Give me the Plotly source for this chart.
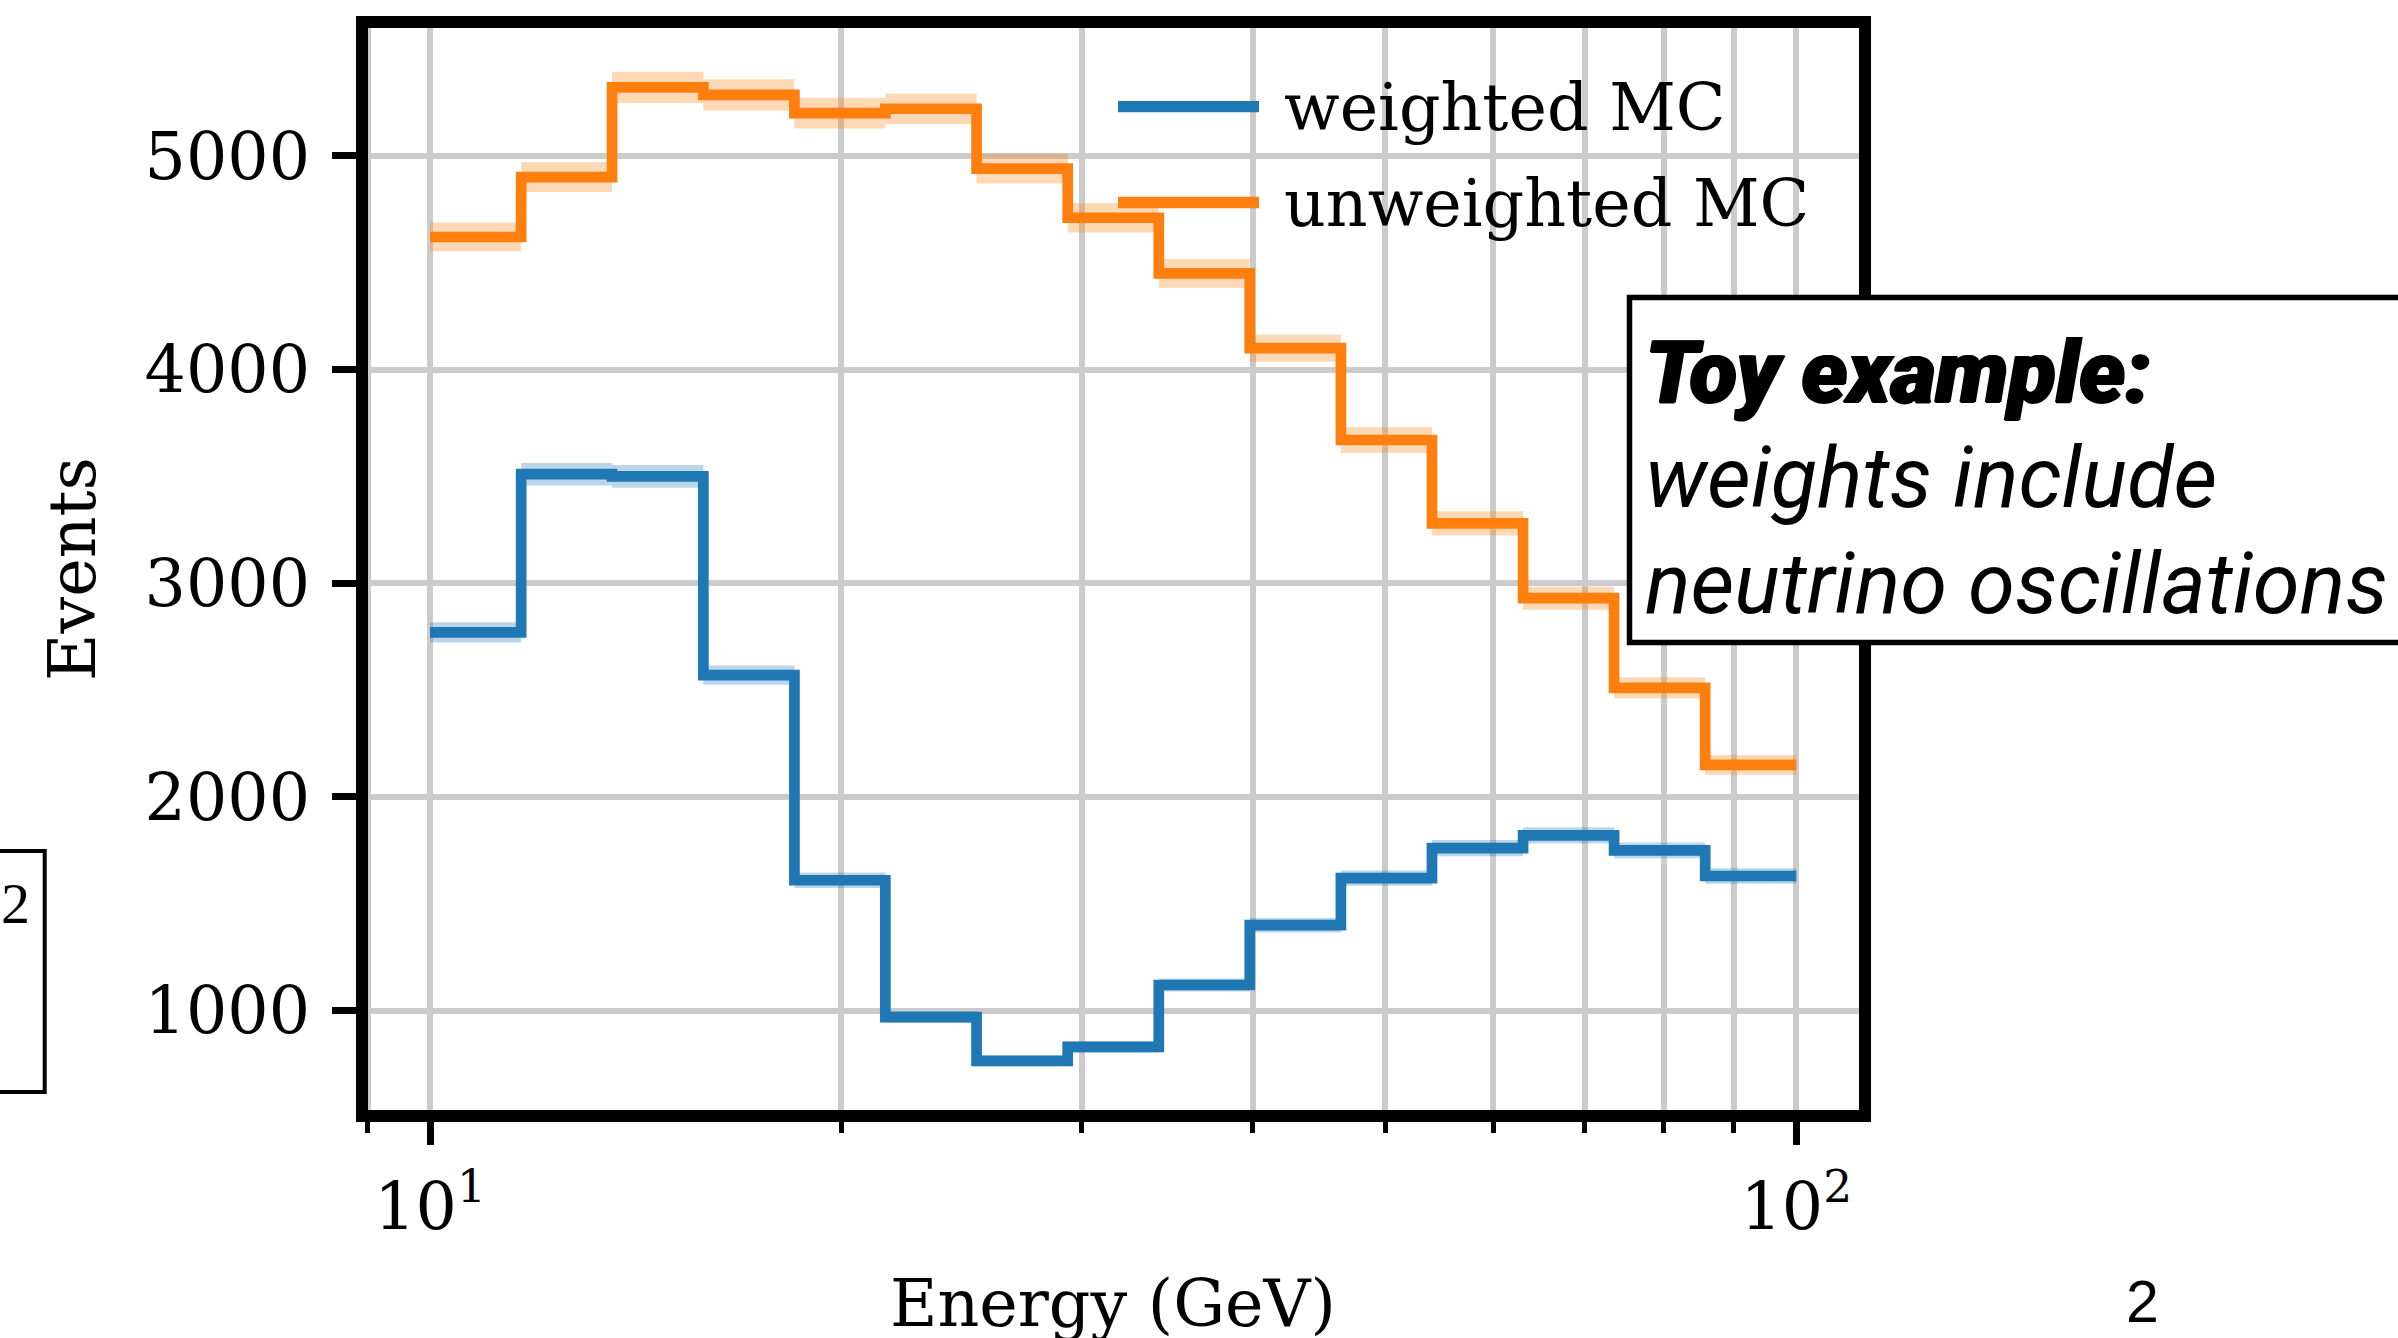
import plotly.graph_objects as go

# Histogram binning (15 log-spaced bins between 10 and 100 GeV)
bin_edges = [10.0, 11.66, 13.59, 15.85, 18.48, 21.54, 25.12, 29.29, 34.15,
             39.81, 46.42, 54.12, 63.10, 73.56, 85.77, 100.0]

# Event counts per bin and their uncertainties
weighted = [2770, 3510, 3500, 2570, 1610, 970, 765, 830, 1120, 1400,
            1620, 1760, 1820, 1750, 1630]
weighted_err = [47, 53, 53, 45, 36, 28, 25, 26, 30, 34, 36, 38, 38, 37, 36]
unweighted = [4620, 4900, 5320, 5285, 5200, 5220, 4940, 4710, 4450, 4100,
              3670, 3280, 2930, 2510, 2150]
unweighted_err = [68, 70, 73, 73, 72, 72, 70, 69, 67, 64, 61, 57, 54, 50, 46]

series_names = ["weighted MC", "unweighted MC"]
series_colors = ["#1f77b4", "#ff7f0e"]
band_colors = ["rgba(31,119,180,0.3)", "rgba(255,127,14,0.3)"]

x_tick_vals = [10, 100]
x_tick_text = ["10<sup>1</sup>", "10<sup>2</sup>"]
x_minor_vals = [9, 20, 30, 40, 50, 60, 70, 80, 90]
y_tick_vals = [1000, 2000, 3000, 4000, 5000]

note_title = "Toy example:"
note_lines = ["weights include", "neutrino oscillations"]

# Canvas and plot-area geometry (pixels)
W, H = 2398, 1338
L, R, T, B = 362, 1865, 22, 1116


def px_x(p):
    return (p - L) / (R - L)


def px_y(p):
    return (B - p) / (B - T)


SERIF = "DejaVu Serif"
SANS = "Roboto"
FS = 65

fig = go.Figure()

for vals, errs, name, color, band in zip(
        [weighted, unweighted], [weighted_err, unweighted_err],
        series_names, series_colors, band_colors):
    lo = [v - e for v, e in zip(vals, errs)]
    hi = [v + e for v, e in zip(vals, errs)]
    # uncertainty band
    fig.add_trace(go.Scatter(x=bin_edges, y=lo + [lo[-1]], mode="lines",
                             line=dict(width=0, shape="hv"),
                             showlegend=False, hoverinfo="skip"))
    fig.add_trace(go.Scatter(x=bin_edges, y=hi + [hi[-1]], mode="lines",
                             line=dict(width=0, shape="hv"),
                             fill="tonexty", fillcolor=band,
                             showlegend=False, hoverinfo="skip"))
    # step histogram outline
    fig.add_trace(go.Scatter(x=bin_edges, y=vals + [vals[-1]], mode="lines",
                             name=name,
                             line=dict(color=color, width=10.7, shape="hv"),
                             showlegend=False))

grid_col = "#cbcbcb"

fig.update_xaxes(
    type="log", range=[0.9502, 2.0503],
    tickmode="array", tickvals=x_tick_vals, ticktext=x_tick_text,
    ticks="outside", ticklen=28, tickwidth=6.5, tickcolor="black",
    ticklabelstandoff=6,
    showgrid=True, gridcolor=grid_col, gridwidth=5.5,
    minor=dict(tickvals=x_minor_vals, ticks="outside", ticklen=16,
               tickwidth=4.5, tickcolor="black", showgrid=True,
               gridcolor=grid_col, gridwidth=5.5),
    tickfont=dict(family=SERIF, size=FS, color="black"),
    showline=False, zeroline=False,
)
fig.update_yaxes(
    range=[507, 5626],
    tickmode="array", tickvals=y_tick_vals,
    ticks="outside", ticklen=29, tickwidth=6.5, tickcolor="black",
    ticklabelstandoff=9,
    showgrid=True, gridcolor=grid_col, gridwidth=5.5,
    tickfont=dict(family=SERIF, size=FS, color="black"),
    showline=False, zeroline=False,
)

shapes = [
    # axes frame
    dict(type="rect", xref="paper", yref="paper", x0=0, x1=1, y0=0, y1=1,
         line=dict(color="black", width=12), layer="above"),
]

annotations = [
    dict(text="Energy (GeV)", xref="paper", yref="paper",
         x=px_x(1113), y=px_y(1303), xanchor="center", yanchor="middle",
         showarrow=False, font=dict(family=SERIF, size=FS, color="black")),
    dict(text="Events", xref="paper", yref="paper",
         x=px_x(72), y=px_y(569), xanchor="center", yanchor="middle",
         textangle=-90, showarrow=False,
         font=dict(family=SERIF, size=FS, color="black")),
]

# legend: line samples and labels
legend_rows = [106.7, 202.5]
for name, color, yrow in zip(series_names, series_colors, legend_rows):
    shapes.append(dict(type="line", xref="paper", yref="paper",
                       x0=px_x(1118), x1=px_x(1259), y0=px_y(yrow), y1=px_y(yrow),
                       line=dict(color=color, width=11.3), layer="above"))
    annotations.append(dict(text=name, xref="paper", yref="paper",
                            x=px_x(1282), y=px_y(yrow + 1), xanchor="left",
                            yanchor="middle", showarrow=False,
                            font=dict(family=SERIF, size=FS, color="black")))

# note box over the right side
shapes.append(dict(type="rect", xref="paper", yref="paper",
                   x0=px_x(1629.5), x1=px_x(2430), y0=px_y(642.5), y1=px_y(297.5),
                   line=dict(color="black", width=5.5), fillcolor="white",
                   layer="above"))
annotations.append(dict(text=note_title, xref="paper", yref="paper",
                        x=px_x(1643), y=px_y(372), xanchor="left",
                        yanchor="middle", showarrow=False,
                        font=dict(family=SANS, size=87, color="black",
                                  style="italic", weight=900,
                                  shadow="1.5px 0 0 black, -1px 0 0 black, "
                                         "0 1px 0 black")))
for line_text, yc in zip(note_lines, [478, 584]):
    annotations.append(dict(text=line_text, xref="paper", yref="paper",
                            x=px_x(1643), y=px_y(yc), xanchor="left",
                            yanchor="middle", showarrow=False,
                            font=dict(family=SANS, size=85, color="black",
                                      style="italic")))

# neighbouring page elements
shapes.append(dict(type="rect", xref="paper", yref="paper",
                   x0=px_x(-30), x1=px_x(44.7), y0=px_y(1092), y1=px_y(851),
                   line=dict(color="black", width=4), fillcolor="white",
                   layer="above"))
annotations.append(dict(text="2", xref="paper", yref="paper",
                        x=px_x(15), y=px_y(903), xanchor="center",
                        yanchor="middle", showarrow=False,
                        font=dict(family="Liberation Serif", size=58,
                                  color="black")))
annotations.append(dict(text="2", xref="paper", yref="paper",
                        x=px_x(2142), y=px_y(1302), xanchor="center",
                        yanchor="middle", showarrow=False,
                        font=dict(family="Liberation Sans", size=59,
                                  color="black")))

fig.update_layout(
    width=W, height=H, autosize=False,
    margin=dict(l=L, r=W - R, t=T, b=H - B, pad=0),
    paper_bgcolor="white", plot_bgcolor="white",
    shapes=shapes, annotations=annotations, showlegend=False,
)

fig.write_html("out.html")
